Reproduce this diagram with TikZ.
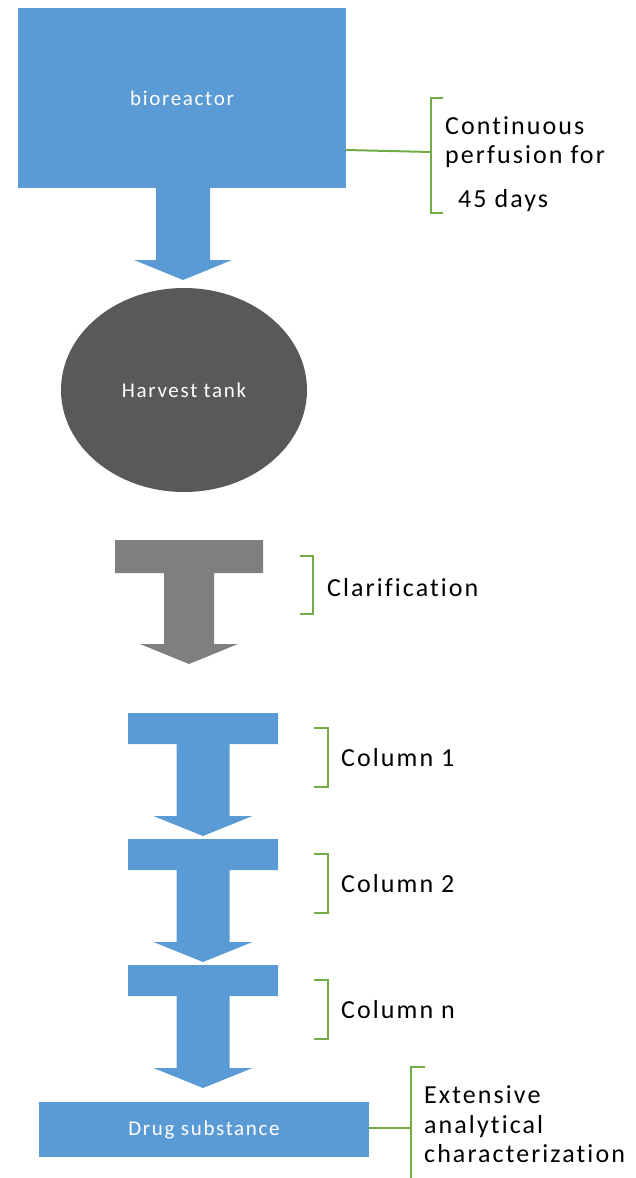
\documentclass[tikz,border=0pt]{standalone}
\usepackage{fontspec}
\setmainfont{Carlito}[LetterSpace=8, Ligatures={NoCommon}]
\usetikzlibrary{shapes.geometric}
\definecolor{cblue}{HTML}{5B9BD5}
\definecolor{cdark}{HTML}{595959}
\definecolor{cgray}{HTML}{7F7F7F}
\definecolor{cgreen}{HTML}{70AD47}
\newcommand\Tshape[9]{% #1 colour, #2 cx, #3 top, #4 bar half width, #5 bar height, #6 shaft half width, #7 head offset, #8 head half width, #9 tip offset
  \fill[#1] (#2-#4,#3) -- (#2+#4,#3) -- (#2+#4,#3+#5) -- (#2+#6,#3+#5) -- (#2+#6,#3+#7) -- (#2+#8,#3+#7) -- (#2,#3+#9) -- (#2-#8,#3+#7) -- (#2-#6,#3+#7) -- (#2-#6,#3+#5) -- (#2-#4,#3+#5) -- cycle;}
\begin{document}
\begin{tikzpicture}[x=1pt,y=-1pt,
  boxtext/.style={inner sep=0pt, text=white, font=\fontsize{21}{25}\selectfont},
  bluebox/.style={boxtext, fill=cblue, draw=none},
  lbl/.style={anchor=base west, inner sep=0pt, font=\fontsize{26}{30}\selectfont},
  brk/.style={draw=cgreen, line width=2pt},
  link/.style={draw=cgreen, line width=2pt},
]
\useasboundingbox (0,0) rectangle (635,1178);

% bioreactor
\node[bluebox, minimum width=328pt, minimum height=180pt] (bio) at (182,98) {bioreactor};
\fill[cblue] (156,188) -- (210,188) -- (210,260) -- (232,260) -- (183,280) -- (134,260) -- (156,260) -- cycle;

% bracket for bioreactor
\coordinate (bioout) at (346,150);
\coordinate (b1t) at (443,98);
\coordinate (b1m) at (431,152);
\coordinate (b1b) at (443,213);
\draw[brk] (b1t) -- (431,98) -- (431,213) -- (b1b);
\draw[link] (bioout) -- (b1m);
\node[lbl] (t1a) at (445,134) {Continuous};
\node[lbl] (t1b) at (445,163) {perfusion for};
\node[lbl] (t1c) at (458,207) {45 days};

% harvest tank
\node[ellipse, fill=cdark, boxtext, minimum width=246pt, minimum height=204pt] (tank) at (184,390) {Harvest tank};

% clarification
\Tshape{cgray}{189}{540}{74}{33}{25}{104}{49}{124}
\draw[brk] (300,556) -- (313,556) -- (313,614) -- (300,614);
\node[lbl] (clar) at (327,596) {Clarification};

% columns
\Tshape{cblue}{203}{713}{75}{31}{26.5}{103}{49.5}{123}
\Tshape{cblue}{203}{839}{75}{31}{26.5}{103}{49.5}{123}
\Tshape{cblue}{203}{965}{75}{31}{26.5}{103}{49.5}{123}
\draw[brk] (314,728) -- (328,728) -- (328,787) -- (314,787);
\draw[brk] (314,854) -- (328,854) -- (328,913) -- (314,913);
\draw[brk] (314,980) -- (328,980) -- (328,1039) -- (314,1039);
\node[lbl] (c1) at (341,766) {Column 1};
\node[lbl] (c2) at (341,892) {Column 2};
\node[lbl] (cn) at (341,1018) {Column n};

% drug substance
\node[bluebox, minimum width=330pt, minimum height=55pt] (drug) at (204,1129.5) {Drug substance};
\coordinate (d1t) at (425,1067);
\coordinate (d1m) at (411,1128);
\draw[brk] (d1t) -- (411,1067) -- (411,1178);
\draw[link] (drug.east |- d1m) -- (d1m);
\node[lbl] (e1) at (424,1103) {Extensive};
\node[lbl] (e2) at (424,1133) {analytical};
\node[lbl] (e3) at (424,1162) {characterization};
\end{tikzpicture}
\end{document}
